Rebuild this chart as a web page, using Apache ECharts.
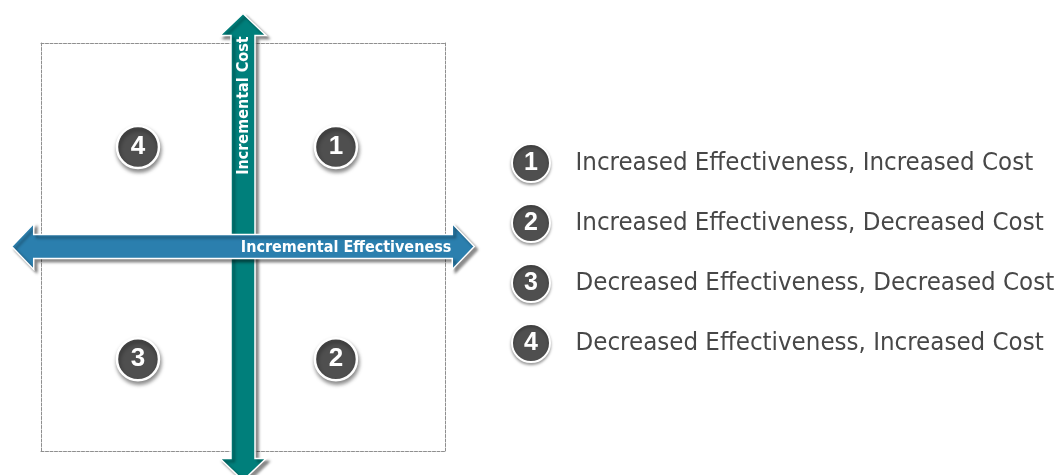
<!DOCTYPE html>
<html>
<head>
<meta charset="utf-8">
<script src="https://cdn.jsdelivr.net/npm/echarts@6/dist/echarts.min.js"></script>
<style>html,body{margin:0;padding:0;background:#fff}#c{width:1062px;height:475px}</style>
</head>
<body>
<div id="c"></div>
<script>
// Quadrant numbers and their descriptions
const quadrantNumbers = ['1', '2', '3', '4'];
const quadrantDescriptions = [
  'Increased Effectiveness, Increased Cost',
  'Increased Effectiveness, Decreased Cost',
  'Decreased Effectiveness, Decreased Cost',
  'Decreased Effectiveness, Increased Cost'
];
// Marker positions in the plane (incremental effectiveness, incremental cost)
const quadrantEffect = [0.46, 0.46, -0.52, -0.52];
const quadrantCost = [0.49, -0.55, -0.55, 0.49];
// Axis arrows: 0 = vertical (cost), 1 = horizontal (effectiveness)
const arrowNames = ['Incremental Cost', 'Incremental Effectiveness'];
const arrowDirs = [1, 0];

const EXT = 1.145;
const FONT = '"Liberation Sans Narrow", "DejaVu Sans Condensed", "Liberation Sans", sans-serif';
const FONT_NUM = '"Liberation Sans", Arial, sans-serif';

function renderArrow(params, api) {
  const dir = api.value(0);
  const name = arrowNames[params.dataIndex];
  const SW = 12, HW = 23, HL = 22;
  let pts, text;
  if (dir === 0) {
    const a = api.coord([-EXT, 0]), b = api.coord([EXT, 0]);
    const y = a[1] - 0.5, x1 = a[0], x2 = b[0];
    pts = [[x1, y], [x1 + HL, y - HW], [x1 + HL, y - SW], [x2 - HL, y - SW], [x2 - HL, y - HW],
           [x2, y], [x2 - HL, y + HW], [x2 - HL, y + SW], [x1 + HL, y + SW], [x1 + HL, y + HW]];
    text = { type: 'text', style: { text: name, x: x2 - HL - 1, y: y + 1, fill: '#fff',
      font: 'bold 16px ' + FONT, align: 'right', verticalAlign: 'middle' } };
  } else {
    const a = api.coord([0, EXT]), b = api.coord([0, -EXT]);
    const x = a[0], y1 = a[1], y2 = b[1];
    pts = [[x, y1], [x + HW, y1 + HL], [x + SW, y1 + HL], [x + SW, y2 - HL], [x + HW, y2 - HL],
           [x, y2], [x - HW, y2 - HL], [x - SW, y2 - HL], [x - SW, y1 + HL], [x - HW, y1 + HL]];
    text = { type: 'text', x: x + 1, y: y1 + HL + 1, rotation: Math.PI / 2,
      style: { text: name, x: 0, y: 0, fill: '#fff',
      font: 'bold 16px ' + FONT, align: 'right', verticalAlign: 'middle' } };
  }
  return {
    type: 'group',
    children: [
      { type: 'polygon', shape: { points: pts },
        style: { fill: dir === 0 ? '#2b7fae' : '#007f7b', stroke: '#ffffff', lineWidth: 1.5,
          shadowBlur: 3, shadowColor: 'rgba(0,0,0,0.45)', shadowOffsetX: 3, shadowOffsetY: 3 } },
      text
    ]
  };
}

const dashedLine = { show: true, onZero: false, lineStyle: { color: '#8f8f8f', type: [3, 1.5], width: 1 } };
const hiddenBits = { axisLabel: { show: false }, axisTick: { show: false }, splitLine: { show: false } };

const option = {
  animation: false,
  grid: [
    { left: 41, top: 43, width: 404, height: 408 },
    { left: 531, top: 133, right: 2, height: 240 }
  ],
  xAxis: [
    Object.assign({ gridIndex: 0, type: 'value', min: -1, max: 1, position: 'bottom', axisLine: dashedLine }, hiddenBits),
    Object.assign({ gridIndex: 0, type: 'value', min: -1, max: 1, position: 'top', axisLine: dashedLine }, hiddenBits),
    Object.assign({ gridIndex: 1, type: 'value', min: 0, max: 1, show: false }, hiddenBits)
  ],
  yAxis: [
    Object.assign({ gridIndex: 0, type: 'value', min: -1, max: 1, position: 'left', axisLine: dashedLine }, hiddenBits),
    Object.assign({ gridIndex: 0, type: 'value', min: -1, max: 1, position: 'right', axisLine: dashedLine }, hiddenBits),
    Object.assign({ gridIndex: 1, type: 'category', inverse: true, data: quadrantNumbers, show: false }, hiddenBits)
  ],
  series: [
    {
      type: 'custom', xAxisIndex: 0, yAxisIndex: 0, silent: true,
      data: arrowDirs.map(d => [d]),
      renderItem: renderArrow, z: 2
    },
    {
      type: 'scatter', xAxisIndex: 0, yAxisIndex: 0, z: 3,
      data: quadrantNumbers.map((n, i) => [quadrantEffect[i], quadrantCost[i], n]),
      symbol: 'circle', symbolSize: 42,
      itemStyle: { color: '#4f4f4f', opacity: 1, borderColor: '#ffffff', borderWidth: 2.5,
        shadowBlur: 4, shadowColor: 'rgba(0,0,0,0.45)', shadowOffsetX: 1, shadowOffsetY: 3 },
      label: { show: true, position: 'inside', formatter: p => p.value[2], color: '#fff',
        fontFamily: FONT_NUM, fontWeight: 'bold', fontSize: 26 }
    },
    {
      type: 'scatter', xAxisIndex: 2, yAxisIndex: 2, z: 3,
      data: quadrantNumbers.map((n, i) => [0, i, n]),
      symbol: 'circle', symbolSize: 38,
      itemStyle: { color: '#4f4f4f', opacity: 1, borderColor: '#ffffff', borderWidth: 2,
        shadowBlur: 3, shadowColor: 'rgba(0,0,0,0.35)', shadowOffsetX: 0, shadowOffsetY: 2 },
      label: { show: true, position: 'inside', formatter: p => p.value[2], color: '#fff',
        fontFamily: FONT_NUM, fontWeight: 'bold', fontSize: 25 }
    },
    {
      type: 'scatter', xAxisIndex: 2, yAxisIndex: 2, z: 3,
      data: quadrantDescriptions.map((t, i) => [0, i, t]),
      symbol: 'circle', symbolSize: 1, itemStyle: { color: 'rgba(0,0,0,0)', opacity: 1 },
      label: { show: true, position: 'right', distance: 44, formatter: p => p.value[2],
        color: '#474747', fontFamily: FONT, fontSize: 25.6 }
    }
  ]
};

const chart = echarts.init(document.getElementById('c'), null, { renderer: 'canvas' });
chart.setOption(option);
</script>
</body>
</html>
